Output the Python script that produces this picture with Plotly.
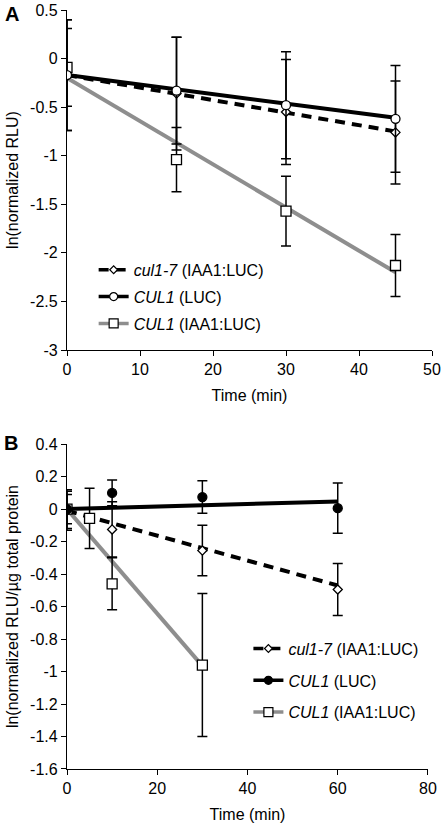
import plotly.graph_objects as go

# ---------------- Panel A data ----------------
tA = [0, 15, 30, 45]
a_cul17 = [-0.17, -0.36, -0.55, -0.76]
a_cul17_err = [0.57, 0.58, 0.54, 0.53]
a_luc = [-0.17, -0.33, -0.48, -0.62]
a_luc_err = [0.57, 0.55, 0.55, 0.55]
a_iaa = [-0.09, -1.04, -1.57, -2.13]
a_iaa_err = [0.40, 0.33, 0.36, 0.32]
# trend lines (end points)
a_trend_t = [0, 45]
a_trend_cul17 = [-0.17, -0.75]
a_trend_luc = [-0.17, -0.61]
a_trend_iaa = [-0.20, -2.20]

# ---------------- Panel B data ----------------
tB_cul17 = [0, 10, 30, 60]
b_cul17 = [-0.01, -0.125, -0.255, -0.495]
b_cul17_err = [0.12, 0.17, 0.155, 0.16]
tB_luc = [0, 10, 30, 60]
b_luc = [0.0, 0.10, 0.074, 0.006]
b_luc_err = [0.12, 0.08, 0.10, 0.155]
tB_iaa = [0, 5, 10, 30]
b_iaa = [0.0, -0.057, -0.46, -0.96]
b_iaa_err = [0.09, 0.185, 0.16, 0.44]
b_trend_t_cul17 = [0, 60]
b_trend_cul17 = [-0.01, -0.47]
b_trend_t_luc = [0, 60]
b_trend_luc = [0.0, 0.047]
b_trend_t_iaa = [0, 30]
b_trend_iaa = [0.0, -0.965]

# tick labels
yA_ticks = [0.5, 0, -0.5, -1, -1.5, -2, -2.5, -3]
yA_text = ["0.5", "0", "-0.5", "-1", "-1.5", "-2", "-2.5", "-3"]
yB_ticks = [0.4, 0.2, 0, -0.2, -0.4, -0.6, -0.8, -1, -1.2, -1.4, -1.6]
yB_text = ["0.4", "0.2", "0", "-0.2", "-0.4", "-0.6", "-0.8", "-1", "-1.2", "-1.4", "-1.6"]

names = ["<i>cul1-7</i> (IAA1:LUC)", "<i>CUL1</i> (LUC)", "<i>CUL1</i> (IAA1:LUC)"]

GRAY = "#8e8e8e"
FONT = "Liberation Sans, Arial, sans-serif"

fig = go.Figure()


def add_panel(xa, ya, leg, trends, pts, symbols):
    # trend lines: gray first, then dashed, then solid
    styles = [dict(color="black", width=4, dash="10px,7px"),
              dict(color="black", width=4),
              dict(color=GRAY, width=4)]
    order = [2, 0, 1]
    for i in order:
        tx, ty = trends[i]
        fig.add_trace(go.Scatter(x=tx, y=ty, mode="lines", line=styles[i],
                                 xaxis=xa, yaxis=ya, showlegend=False, hoverinfo="skip"))
    for i in order:
        px, py, pe = pts[i]
        sym, fill, size = symbols[i]
        fig.add_trace(go.Scatter(
            x=px, y=py, mode="markers",
            marker=dict(symbol=sym, size=size, color=fill, line=dict(color="black", width=1.3)),
            error_y=dict(type="data", array=pe, visible=True, color="black", thickness=1.5, width=5),
            xaxis=xa, yaxis=ya, showlegend=False))
    for i in range(3):
        sym, fill, size = symbols[i]
        st = dict(styles[i])
        st["width"] = 3.5
        fig.add_trace(go.Scatter(
            x=[None], y=[None], mode="lines+markers", name=names[i],
            line=st, marker=dict(symbol=sym, size=size - 1, color=fill, line=dict(color="black", width=1.2)),
            xaxis=xa, yaxis=ya, legend=leg, legendgroup=leg + str(i)))


add_panel("x", "y", "legend",
          [(a_trend_t, a_trend_cul17), (a_trend_t, a_trend_luc), (a_trend_t, a_trend_iaa)],
          [(tA, a_cul17, a_cul17_err), (tA, a_luc, a_luc_err), (tA, a_iaa, a_iaa_err)],
          [("diamond", "white", 7), ("circle", "white", 9), ("square", "white", 10)])
add_panel("x2", "y2", "legend2",
          [(b_trend_t_cul17, b_trend_cul17), (b_trend_t_luc, b_trend_luc), (b_trend_t_iaa, b_trend_iaa)],
          [(tB_cul17, b_cul17, b_cul17_err), (tB_luc, b_luc, b_luc_err), (tB_iaa, b_iaa, b_iaa_err)],
          [("diamond", "white", 7), ("circle", "black", 9), ("square", "white", 10)])

axis_common = dict(showgrid=False, zeroline=False, showline=True, linecolor="black", linewidth=1.3,
                   ticks="outside", ticklen=5, tickcolor="black", tickwidth=1.3, automargin=False,
                   tickfont=dict(size=16, color="black", family=FONT))

fig.update_layout(
    width=442, height=827,
    margin=dict(l=67, r=10, t=10, b=58),
    plot_bgcolor="white", paper_bgcolor="white",
    font=dict(family=FONT, size=16, color="black"),
    xaxis=dict(domain=[0, 1], anchor="y", range=[0, 50], tickvals=[0, 10, 20, 30, 40, 50],
               title=dict(text="Time (min)", font=dict(size=16), standoff=12), **axis_common),
    yaxis=dict(domain=[0.552, 1], anchor="x", range=[-3, 0.5], tickvals=yA_ticks, ticktext=yA_text,
               title=dict(text="ln(normalized RLU)", font=dict(size=16), standoff=7), **axis_common),
    xaxis2=dict(domain=[0, 0.989], anchor="y2", range=[0, 80], tickvals=[0, 20, 40, 60, 80],
                title=dict(text="Time (min)", font=dict(size=16), standoff=12), **axis_common),
    yaxis2=dict(domain=[0, 0.428], anchor="x2", range=[-1.6, 0.4], tickvals=yB_ticks, ticktext=yB_text,
                title=dict(text="ln(normalized RLU/\u00b5g total protein", font=dict(size=16), standoff=7),
                **axis_common),
    legend=dict(x=0.073, y=0.68, xanchor="left", yanchor="top", bgcolor="rgba(0,0,0,0)",
                font=dict(size=16, family=FONT), tracegroupgap=3, itemwidth=30),
    legend2=dict(x=0.497, y=0.181, xanchor="left", yanchor="top", bgcolor="rgba(0,0,0,0)",
                 font=dict(size=16, family=FONT), tracegroupgap=8, itemwidth=30),
    annotations=[
        dict(text="<b>A</b>", xref="paper", yref="paper", x=-0.175, y=0.995, xanchor="left",
             yanchor="middle", showarrow=False, font=dict(size=20, family=FONT)),
        dict(text="<b>B</b>", xref="paper", yref="paper", x=-0.178, y=0.4295, xanchor="left",
             yanchor="middle", showarrow=False, font=dict(size=20, family=FONT)),
    ],
)

fig.write_html("out.html", config={"displayModeBar": False},
               post_script="document.body.style.margin='0';document.body.style.overflow='hidden';")
